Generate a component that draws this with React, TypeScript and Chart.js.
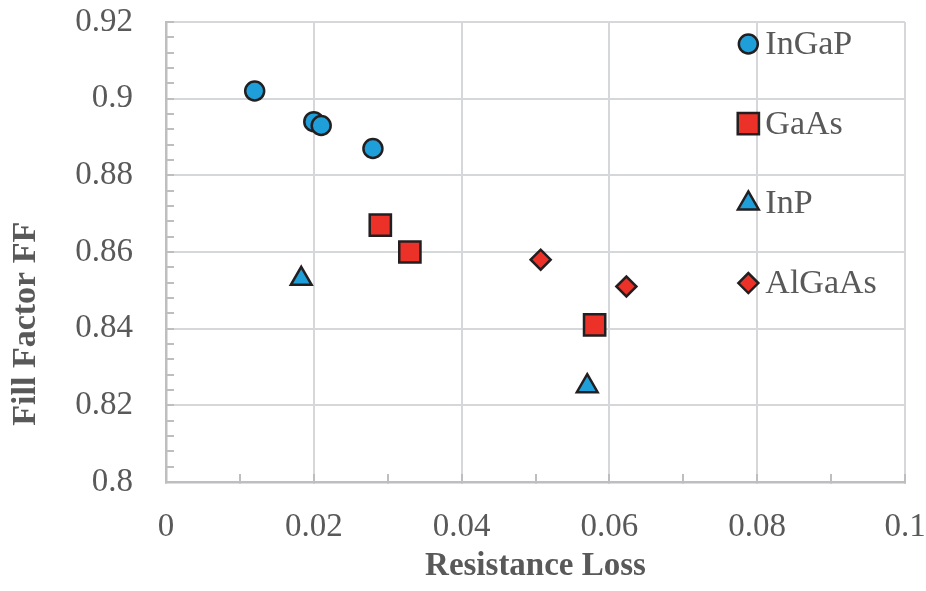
import React, { useEffect, useRef } from 'react';
import { Chart, registerables } from 'chart.js';
import { drawPoint } from 'chart.js/helpers';

Chart.register(...registerables);

const seriesNames = ['InGaP', 'GaAs', 'InP', 'AlGaAs'];
const inGaPX = [0.012, 0.02, 0.021, 0.028];
const inGaPY = [0.902, 0.894, 0.893, 0.887];
const gaAsX = [0.029, 0.033, 0.058];
const gaAsY = [0.867, 0.86, 0.841];
const inPX = [0.0183, 0.057];
const inPY = [0.853, 0.825];
const alGaAsX = [0.0507, 0.0623];
const alGaAsY = [0.858, 0.851];

const xTickLabels = ['0', '0.02', '0.04', '0.06', '0.08', '0.1'];
const yTickLabels = ['0.8', '0.82', '0.84', '0.86', '0.88', '0.9', '0.92'];

const xTitle = 'Resistance Loss';
const yTitle = 'Fill Factor FF';

const BLUE = '#1F9FD9';
const RED = '#EC3228';
const EDGE = '#231F20';
const TEXT = '#595959';
const GRID = '#D6D7DA';
const AXIS = '#BEBEC0';
const FONT = '"Liberation Serif", "Times New Roman", serif';

const toPoints = (xs: number[], ys: number[]) => xs.map((x, i) => ({ x, y: ys[i] }));

const insideLegend = {
  id: 'insideLegend',
  afterDatasetsDraw(chart: any) {
    const { ctx, chartArea } = chart;
    const w = chartArea.right - chartArea.left;
    const x = chartArea.left + w * 0.788;
    const y0 = chartArea.top + 22;
    const step = 79.7;
    chart.data.datasets.forEach((ds: any, i: number) => {
      const y = y0 + i * step;
      ctx.save();
      ctx.fillStyle = ds.backgroundColor;
      ctx.strokeStyle = ds.borderColor;
      ctx.lineWidth = ds.borderWidth;
      drawPoint(ctx, { pointStyle: ds.pointStyle, radius: ds.pointRadius, rotation: 0, borderWidth: ds.borderWidth }, x, y);
      ctx.fillStyle = TEXT;
      ctx.font = `34px ${FONT}`;
      ctx.textAlign = 'left';
      ctx.textBaseline = 'middle';
      ctx.fillText(ds.label, x + 17, y + 1);
      ctx.restore();
    });
  },
};

const yTitlePlugin = {
  id: 'yTitlePlugin',
  afterDraw(chart: any) {
    const { ctx, chartArea } = chart;
    const h = chartArea.bottom - chartArea.top;
    ctx.save();
    ctx.translate(26, chartArea.top + h * 0.656);
    ctx.rotate(-Math.PI / 2);
    ctx.fillStyle = TEXT;
    ctx.font = `bold 34px ${FONT}`;
    ctx.textAlign = 'center';
    ctx.textBaseline = 'middle';
    ctx.fillText(yTitle, 0, 0);
    ctx.restore();
  },
};

export default function App() {
  const ref = useRef<HTMLCanvasElement | null>(null);
  useEffect(() => {
    if (!ref.current) return;
    const isMajorX = (v: number) => Math.round(v * 100) % 2 === 0;
    const isMajorY = (v: number) => Math.round(v * 1000) % 20 === 0;
    const chart = new Chart(ref.current, {
      type: 'scatter',
      data: {
        datasets: [
          { label: seriesNames[0], data: toPoints(inGaPX, inGaPY), pointStyle: 'circle', pointRadius: 9.5, backgroundColor: BLUE, borderColor: EDGE, borderWidth: 2.5 },
          { label: seriesNames[1], data: toPoints(gaAsX, gaAsY), pointStyle: 'rect', pointRadius: 15, backgroundColor: RED, borderColor: EDGE, borderWidth: 2.5 },
          { label: seriesNames[2], data: toPoints(inPX, inPY), pointStyle: 'triangle', pointRadius: 12, backgroundColor: BLUE, borderColor: EDGE, borderWidth: 2.5 },
          { label: seriesNames[3], data: toPoints(alGaAsX, alGaAsY), pointStyle: 'rectRot', pointRadius: 10, backgroundColor: RED, borderColor: EDGE, borderWidth: 2.5 },
        ] as any,
      },
      options: {
        animation: false,
        responsive: false,
        layout: { padding: { top: 22, right: 21, left: 0, bottom: 0 } },
        plugins: { legend: { display: false }, tooltip: { enabled: false } },
        elements: { point: { hoverRadius: 0 } },
        scales: {
          x: {
            type: 'linear',
            min: 0,
            max: 0.1,
            afterFit: (s: any) => { s.height = 109; s.paddingLeft = 0; s.paddingRight = 0; },
            border: { color: AXIS, width: 2.5 },
            grid: {
              color: (c: any) => (isMajorX(c.tick.value) ? GRID : 'rgba(0,0,0,0)'),
              lineWidth: 2,
              tickColor: AXIS,
              tickLength: -8,
              tickWidth: 2,
            },
            ticks: {
              stepSize: 0.01,
              autoSkip: false,
              maxRotation: 0,
              padding: 34,
              color: TEXT,
              font: { family: FONT, size: 33 },
              callback: (v: any) => (isMajorX(v) ? xTickLabels[Math.round(v * 50)] : ''),
            },
            title: {
              display: true,
              text: xTitle,
              color: TEXT,
              font: { family: FONT, size: 33, weight: 'bold' },
              padding: { top: 0, bottom: 5 },
            },
          },
          y: {
            type: 'linear',
            min: 0.8,
            max: 0.92,
            afterFit: (s: any) => { s.width = 166; s.paddingTop = 0; s.paddingBottom = 0; },
            border: { color: AXIS, width: 2.5 },
            grid: {
              color: (c: any) => (isMajorY(c.tick.value) ? GRID : 'rgba(0,0,0,0)'),
              lineWidth: 2,
              tickColor: AXIS,
              tickLength: -8,
              tickWidth: 2,
            },
            ticks: {
              stepSize: 0.004,
              autoSkip: false,
              padding: 41,
              color: TEXT,
              font: { family: FONT, size: 33 },
              callback: (v: any) => (isMajorY(v) ? yTickLabels[Math.round((v - 0.8) * 50)] : ''),
            },
          },
        },
      } as any,
      plugins: [insideLegend, yTitlePlugin],
    });
    return () => chart.destroy();
  }, []);
  return (
    <div style={{ position: 'absolute', left: 0, top: 0, width: 926, height: 591, background: '#fff' }}>
      <canvas ref={ref} width={926} height={591} />
    </div>
  );
}
